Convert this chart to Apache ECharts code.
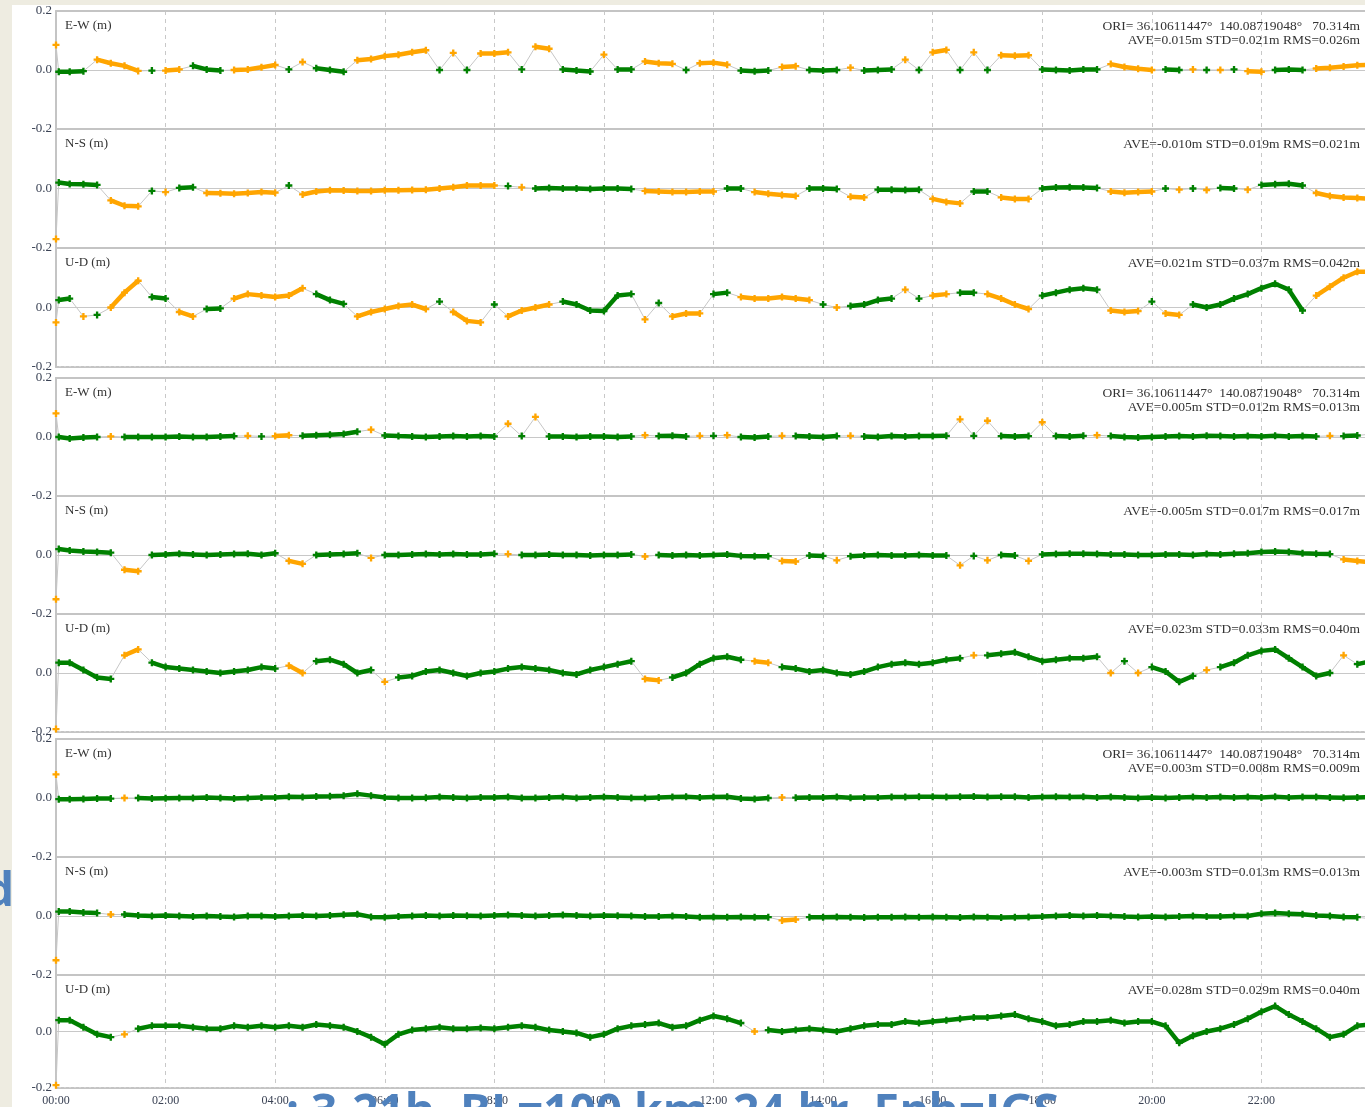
<!DOCTYPE html>
<html>
<head>
<meta charset="utf-8">
<script src="https://cdn.jsdelivr.net/npm/echarts/dist/echarts.min.js"></script>
<style>
html, body { margin: 0; padding: 0; width: 1365px; height: 1107px; overflow: hidden; background: #fff; }
#chart { width: 1365px; height: 1107px; }
</style>
</head>
<body>
<div id="chart"></div>
<script>
// Sample times in hours: a start sample, one just after, then every 15 minutes.
const HOURS = [0, 0.05];
for (let k = 1; k <= 96; k++) HOURS.push(k / 4);

// Session A (top block) – positions in metres
const ewA = [
  0.085, -0.006, -0.006, -0.004, 0.035, 0.023, 0.014, -0.003, -0.002,
  -0.002, 0.002, 0.014, 0.002, -0.002, 0.0, 0.002, 0.009,
  0.017, 0.002, 0.027, 0.006, 0.0, -0.006, 0.033, 0.037,
  0.047, 0.052, 0.06, 0.067, 0.0, 0.058, 0.0, 0.056,
  0.056, 0.06, 0.002, 0.079, 0.072, 0.002, -0.002, -0.005,
  0.052, 0.002, 0.002, 0.029, 0.023, 0.021, 0.0, 0.023,
  0.025, 0.018, -0.002, -0.004, -0.002, 0.01, 0.013, 0.0,
  -0.002, 0.0, 0.008, -0.002, 0.0, 0.002, 0.035, 0.0,
  0.06, 0.068, 0.0, 0.06, 0.0, 0.05, 0.048, 0.05,
  0.002, 0.0, -0.002, 0.002, 0.002, 0.02, 0.01, 0.004,
  0.0, 0.002, 0.0, 0.002, 0.0, 0.0, 0.002, -0.004,
  -0.006, 0.0, 0.002, 0.0, 0.005, 0.008, 0.012, 0.016,
  0.018
];
const nsA = [
  -0.17, 0.02, 0.015, 0.014, 0.012, -0.04, -0.058, -0.06, -0.008,
  -0.012, 0.002, 0.004, -0.015, -0.016, -0.018, -0.015, -0.012,
  -0.014, 0.01, -0.02, -0.01, -0.006, -0.007, -0.008, -0.008,
  -0.006, -0.006, -0.005, -0.004, 0.0, 0.004, 0.01, 0.01,
  0.01, 0.008, 0.004, 0.0, 0.002, 0.0, 0.0, -0.002,
  0.0, 0.0, -0.002, -0.008, -0.01, -0.012, -0.012, -0.01,
  -0.01, 0.0, 0.0, -0.012, -0.018, -0.022, -0.025, 0.0,
  0.0, -0.002, -0.028, -0.03, -0.004, -0.004, -0.005, -0.004,
  -0.035, -0.045, -0.05, -0.01, -0.01, -0.03, -0.035, -0.035,
  0.0, 0.003, 0.004, 0.003, 0.002, -0.01, -0.014, -0.012,
  -0.01, 0.0, -0.004, 0.0, -0.005, 0.002, 0.0, -0.004,
  0.012, 0.014, 0.016, 0.01, -0.015, -0.025, -0.03, -0.032,
  -0.035
];
const udA = [
  -0.05, 0.025, 0.03, -0.03, -0.025, 0.0, 0.05, 0.09, 0.035,
  0.03, -0.015, -0.03, -0.005, -0.003, 0.03, 0.045, 0.04,
  0.035, 0.04, 0.065, 0.045, 0.025, 0.012, -0.03, -0.015,
  -0.005, 0.005, 0.01, -0.005, 0.02, -0.015, -0.045, -0.05,
  0.01, -0.03, -0.01, 0.0, 0.01, 0.02, 0.01, -0.01,
  -0.012, 0.04, 0.045, -0.04, 0.015, -0.03, -0.02, -0.02,
  0.045, 0.05, 0.035, 0.03, 0.03, 0.035, 0.03, 0.025,
  0.01, 0.0, 0.005, 0.01, 0.025, 0.03, 0.06, 0.03,
  0.04, 0.045, 0.05, 0.05, 0.045, 0.03, 0.01, -0.005,
  0.04, 0.05, 0.06, 0.065, 0.06, -0.01, -0.015, -0.012,
  0.02, -0.02, -0.025, 0.01, 0.0, 0.01, 0.03, 0.045,
  0.065, 0.08, 0.06, -0.01, 0.04, 0.07, 0.1, 0.12,
  0.12
];
// Solution quality per sample: 1 = fix, 2 = float
const qEwA = '21 1122221 22111222 21211122 22221212 22122111 21122212 22111221 11211121 22121222 11111222 21121212 21112222 2';
const qNsA = '21 1112221 21122222 21222222 22222222 21211111 11122222 21122221 11221111 22211222 11111222 21212112 11112222 2';
const qUdA = '21 1212221 12211222 22211122 22221222 12222111 11121222 11222222 12111121 22112222 11111222 12211111 11112222 2';

// Session B (middle block)
const ewB = [
  0.08, 0.0, -0.005, -0.002, 0.0, 0.002, 0.0, 0.0, 0.0,
  0.0, 0.002, 0.0, 0.0, 0.002, 0.003, 0.004, 0.002,
  0.003, 0.006, 0.004, 0.006, 0.008, 0.01, 0.018, 0.025,
  0.005, 0.003, 0.002, 0.0, 0.002, 0.003, 0.002, 0.003,
  0.002, 0.045, 0.003, 0.068, 0.002, 0.002, 0.0, 0.002,
  0.002, 0.0, 0.002, 0.006, 0.003, 0.004, 0.002, 0.004,
  0.004, 0.006, 0.0, -0.002, 0.002, 0.004, 0.003, 0.002,
  0.0, 0.003, 0.004, 0.002, 0.0, 0.003, 0.002, 0.003,
  0.003, 0.004, 0.06, 0.004, 0.055, 0.003, 0.002, 0.003,
  0.05, 0.003, 0.002, 0.004, 0.006, 0.003, 0.0, -0.002,
  0.0, 0.002, 0.003, 0.002, 0.004, 0.003, 0.002, 0.003,
  0.002, 0.004, 0.002, 0.003, 0.002, 0.004, 0.003, 0.005,
  0.01
];
const nsB = [
  -0.15, 0.02, 0.015, 0.012, 0.01, 0.008, -0.05, -0.055, 0.0,
  0.002, 0.004, 0.002, 0.0, 0.002, 0.003, 0.004, 0.0,
  0.006, -0.02, -0.03, 0.0, 0.002, 0.003, 0.006, -0.01,
  0.0, 0.0, 0.002, 0.003, 0.002, 0.003, 0.002, 0.002,
  0.004, 0.003, 0.0, 0.0, 0.002, 0.0, 0.0, -0.002,
  0.0, 0.0, 0.002, -0.005, 0.0, -0.002, 0.0, -0.002,
  0.0, 0.002, -0.003, -0.004, -0.004, -0.02, -0.022, -0.002,
  -0.003, -0.018, -0.004, -0.002, 0.0, -0.002, -0.002, 0.0,
  -0.002, -0.002, -0.035, -0.003, -0.018, 0.0, -0.002, -0.02,
  0.002, 0.003, 0.004, 0.004, 0.003, 0.002, 0.002, 0.0,
  0.0, 0.002, 0.002, 0.0, 0.003, 0.002, 0.004, 0.006,
  0.01, 0.012, 0.01, 0.006, 0.004, 0.003, -0.015, -0.02,
  -0.025
];
const udB = [
  -0.19, 0.035, 0.035, 0.01, -0.015, -0.02, 0.06, 0.08, 0.035,
  0.02, 0.015, 0.01, 0.005, 0.0, 0.005, 0.01, 0.02,
  0.015, 0.025, 0.0, 0.04, 0.045, 0.03, 0.0, 0.01,
  -0.03, -0.015, -0.01, 0.005, 0.01, 0.0, -0.01, 0.0,
  0.005, 0.015, 0.02, 0.015, 0.01, 0.0, -0.005, 0.01,
  0.02, 0.03, 0.04, -0.02, -0.025, -0.015, 0.0, 0.03,
  0.05, 0.055, 0.045, 0.04, 0.035, 0.02, 0.015, 0.005,
  0.01, 0.0, -0.005, 0.005, 0.02, 0.03, 0.035, 0.03,
  0.035, 0.045, 0.05, 0.06, 0.06, 0.065, 0.07, 0.055,
  0.04, 0.045, 0.05, 0.05, 0.055, 0.0, 0.04, 0.0,
  0.02, 0.005, -0.03, -0.01, 0.01, 0.02, 0.035, 0.06,
  0.075, 0.08, 0.05, 0.02, -0.01, 0.0, 0.06, 0.03,
  0.04
];
const qEwB = '21 1112111 11111121 22111112 11111111 12121111 11121112 12111211 11211111 11212111 21112111 11111111 11111211 2';
const qNsB = '21 1111221 11111111 12211112 11111111 12111111 11121111 11111221 12111111 11212112 11111111 11111111 11111122 2';
const qUdB = '21 1111221 11111111 12211111 21111111 11111111 11122111 11122111 11111111 11121111 11111212 11112111 11111121 1';

// Session C (bottom block)
const ewC = [
  0.08, -0.004, -0.004, -0.003, -0.002, -0.002, 0.0, 0.0, -0.002,
  -0.001, 0.0, 0.0, 0.002, 0.0, -0.002, 0.0, 0.002,
  0.002, 0.004, 0.003, 0.005, 0.006, 0.008, 0.014, 0.008,
  0.002, 0.0, 0.0, 0.001, 0.003, 0.002, 0.0, 0.002,
  0.002, 0.003, 0.0, 0.0, 0.002, 0.003, 0.0, 0.002,
  0.003, 0.002, 0.0, 0.0, 0.002, 0.003, 0.004, 0.002,
  0.003, 0.004, -0.002, -0.003, 0.0, 0.002, 0.001, 0.002,
  0.002, 0.003, 0.001, 0.002, 0.002, 0.003, 0.003, 0.004,
  0.004, 0.003, 0.004, 0.005, 0.003, 0.004, 0.004, 0.002,
  0.003, 0.004, 0.003, 0.004, 0.002, 0.003, 0.002, 0.0,
  0.002, 0.0, 0.002, 0.003, 0.002, 0.003, 0.002, 0.003,
  0.002, 0.004, 0.002, 0.003, 0.003, 0.002, 0.001, 0.002,
  0.003
];
const nsC = [
  -0.15, 0.015, 0.015, 0.012, 0.01, 0.005, 0.005, 0.002, 0.0,
  0.002, 0.0, -0.002, 0.0, -0.002, -0.003, 0.0, 0.0,
  -0.002, 0.0, 0.002, 0.0, 0.002, 0.004, 0.006, -0.003,
  -0.004, -0.002, 0.0, 0.002, 0.0, 0.002, 0.001, 0.0,
  0.002, 0.003, 0.002, 0.0, 0.002, 0.003, 0.002, 0.0,
  0.002, 0.001, 0.0, -0.002, -0.002, 0.0, -0.002, -0.004,
  -0.003, -0.004, -0.003, -0.004, -0.004, -0.015, -0.012, -0.004,
  -0.004, -0.003, -0.004, -0.005, -0.004, -0.004, -0.003, -0.004,
  -0.003, -0.004, -0.005, -0.003, -0.004, -0.005, -0.004, -0.003,
  -0.002, 0.0, 0.002, 0.0, 0.002, 0.0, -0.002, -0.003,
  -0.002, -0.003, -0.002, 0.0, -0.002, -0.002, 0.0, 0.0,
  0.008, 0.01, 0.008, 0.006, 0.002, 0.0, -0.003, -0.004,
  -0.01
];
const udC = [
  -0.19, 0.04, 0.04, 0.015, -0.01, -0.02, -0.01, 0.01, 0.02,
  0.02, 0.02, 0.015, 0.01, 0.01, 0.02, 0.015, 0.02,
  0.015, 0.02, 0.015, 0.025, 0.02, 0.015, 0.0, -0.02,
  -0.045, -0.01, 0.005, 0.01, 0.015, 0.01, 0.01, 0.012,
  0.01, 0.015, 0.02, 0.015, 0.005, 0.0, -0.005, -0.02,
  -0.01, 0.01, 0.02, 0.025, 0.03, 0.015, 0.02, 0.04,
  0.055, 0.045, 0.03, 0.0, 0.005, 0.0, 0.005, 0.01,
  0.005, 0.0, 0.01, 0.02, 0.025, 0.025, 0.035, 0.03,
  0.035, 0.04, 0.045, 0.05, 0.05, 0.055, 0.06, 0.045,
  0.035, 0.02, 0.025, 0.035, 0.035, 0.04, 0.03, 0.035,
  0.035, 0.02, -0.04, -0.015, 0.0, 0.01, 0.025, 0.045,
  0.07, 0.09, 0.06, 0.035, 0.01, -0.02, -0.01, 0.02,
  0.025
];
const qEwC = '21 1111211 11111111 11111111 11111111 11111111 11111111 11111211 11111111 11111111 11111111 11111111 11111111 1';
const qNsC = '21 1112111 11111111 11111111 11111111 11111111 11111111 11111221 11111111 11111111 11111111 11111111 11111111 2';
const qUdC = '21 1111211 11111111 11111111 11111111 11111111 11111111 11121111 11111111 11111111 11111111 11111111 11111111 1';

const AXIS_NAMES = ['E-W (m)', 'N-S (m)', 'U-D (m)'];
const ORIGIN = 'ORI= 36.10611447°  140.08719048°   70.314m';
const STATS = [
  'AVE=0.015m STD=0.021m RMS=0.026m',
  'AVE=-0.010m STD=0.019m RMS=0.021m',
  'AVE=0.021m STD=0.037m RMS=0.042m',
  'AVE=0.005m STD=0.012m RMS=0.013m',
  'AVE=-0.005m STD=0.017m RMS=0.017m',
  'AVE=0.023m STD=0.033m RMS=0.040m',
  'AVE=0.003m STD=0.008m RMS=0.009m',
  'AVE=-0.003m STD=0.013m RMS=0.013m',
  'AVE=0.028m STD=0.029m RMS=0.040m'
];
const SERIES_VALUES = [ewA, nsA, udA, ewB, nsB, udB, ewC, nsC, udC];
const SERIES_QUALITY = [qEwA, qNsA, qUdA, qEwB, qNsB, qUdB, qEwC, qNsC, qUdC];
const FOOTNOTE = ': 3-21h, BL=100 km, 24 hr, Eph=IGS';

// ---- layout ----
// The 24 h window is wider than the page: the visible plot ends at the
// canvas edge, a few minutes before 24:00.
const PANEL_TOP = [11, 129, 248, 378, 496, 614, 739, 857, 975];
const PANEL_H   = [118, 119, 119, 118, 118, 118, 118, 118, 117];
const LEFT = 56, PLOT_W = 1309, FULL_DAY_W = 1315;
const X_MAX = 24 * PLOT_W / FULL_DAY_W;
const SERIF = '"Liberation Serif", "DejaVu Serif", serif';
const LABEL_COLOR = '#3a4254';
const GRID_LINE = '#c8c8c8';
const FRAME = '#c4c4c4';
const FIX = '#008000', FLOAT = '#ffa500';
const PLUS = 'path://M2,0H4V2H6V4H4V6H2V4H0V2H2Z';

const grids = [], xAxes = [], yAxes = [], series = [], graphics = [];

PANEL_TOP.forEach((top, i) => {
  const blockEnd = i % 3 === 2, blockStart = i % 3 === 0;
  grids.push({ left: LEFT, top: top, width: PLOT_W, height: PANEL_H[i], containLabel: false });
  xAxes.push({
    type: 'value', gridIndex: i, min: 0, max: X_MAX, interval: 2,
    axisTick: { show: false },
    axisLine: { show: true, onZero: false, lineStyle: { color: FRAME, width: 2, type: blockEnd ? [3, 2] : 'solid' } },
    splitLine: { show: true, lineStyle: { color: GRID_LINE, width: 1, type: [4, 4] } },
    axisLabel: {
      show: i === 8, showMaxLabel: false, margin: 7,
      fontFamily: SERIF, fontSize: 12, color: LABEL_COLOR,
      formatter: v => (v < 10 ? '0' : '') + Math.round(v) + ':00'
    }
  });
  yAxes.push({
    type: 'value', gridIndex: i, min: -0.2, max: 0.2, interval: 0.2,
    axisTick: { show: false },
    axisLine: { show: true, onZero: false, lineStyle: { color: FRAME, width: 2 } },
    splitLine: { show: true, lineStyle: { color: GRID_LINE, width: 1 } },
    axisLabel: {
      showMaxLabel: blockStart, showMinLabel: true, margin: 4,
      fontFamily: SERIF, fontSize: 13, color: LABEL_COLOR,
      formatter: v => v.toFixed(1)
    }
  });

  const vals = SERIES_VALUES[i];
  const q = SERIES_QUALITY[i].replace(/\s/g, '');
  series.push({
    type: 'line', xAxisIndex: i, yAxisIndex: i, silent: true, animation: false,
    data: HOURS.map((t, k) => [t, vals[k]]),
    showSymbol: false, lineStyle: { color: '#c6c6c6', width: 1 }, z: 2
  });
  [['2', FLOAT], ['1', FIX]].forEach(([code, color], n) => {
    series.push({
      type: 'line', xAxisIndex: i, yAxisIndex: i, silent: true, animation: false,
      data: HOURS.map((t, k) => [t, q[k] === code ? vals[k] : '-']),
      connectNulls: false, showSymbol: true, symbol: PLUS, symbolSize: 7,
      itemStyle: { color: color }, lineStyle: { color: color, width: 4.5 }, z: 3 + n
    });
  });

  // panel annotations
  graphics.push({
    type: 'text', x: 65, y: top + 15, z: 10,
    style: { text: AXIS_NAMES[i % 3], font: '13px ' + SERIF, fill: '#333', align: 'left', verticalAlign: 'middle' }
  });
  const lines = blockStart ? [ORIGIN, STATS[i]] : [STATS[i]];
  lines.forEach((s, n) => graphics.push({
    type: 'text', x: 1360, y: top + 15 + n * 14, z: 10,
    style: { text: s, font: '13.5px ' + SERIF, fill: '#333', align: 'right', verticalAlign: 'middle' }
  }));
});

// block top borders
[0, 3, 6].forEach(i => xAxes.push({
  type: 'value', gridIndex: i, position: 'top', min: 0, max: X_MAX,
  axisLine: { show: true, onZero: false, lineStyle: { color: FRAME, width: 2 } },
  axisLabel: { show: false }, axisTick: { show: false }, splitLine: { show: false }
}));

// page margin strips and overlaid slide lettering
graphics.push(
  { type: 'rect', shape: { x: 0, y: 0, width: 12, height: 1107 }, style: { fill: '#eeece1' }, z: 20 },
  { type: 'rect', shape: { x: 0, y: 0, width: 1365, height: 5 }, style: { fill: '#eeece1' }, z: 20 },
  { type: 'text', x: 14, y: 893, z: 30,
    style: { text: 'd', font: 'bold 46px "Open Sans", "Liberation Sans", sans-serif', fill: '#4f81bd', align: 'right', verticalAlign: 'middle' } },
  { type: 'text', x: 286, y: 1091, z: 30,
    style: { text: FOOTNOTE, font: 'bold 46px "Open Sans", "Liberation Sans", sans-serif', fill: '#4f81bd', align: 'left', verticalAlign: 'top' } }
);

const chart = echarts.init(document.getElementById('chart'), null, { renderer: 'canvas' });
chart.setOption({
  backgroundColor: '#ffffff',
  animation: false,
  grid: grids, xAxis: xAxes, yAxis: yAxes, series: series, graphic: graphics
});
</script>
</body>
</html>
